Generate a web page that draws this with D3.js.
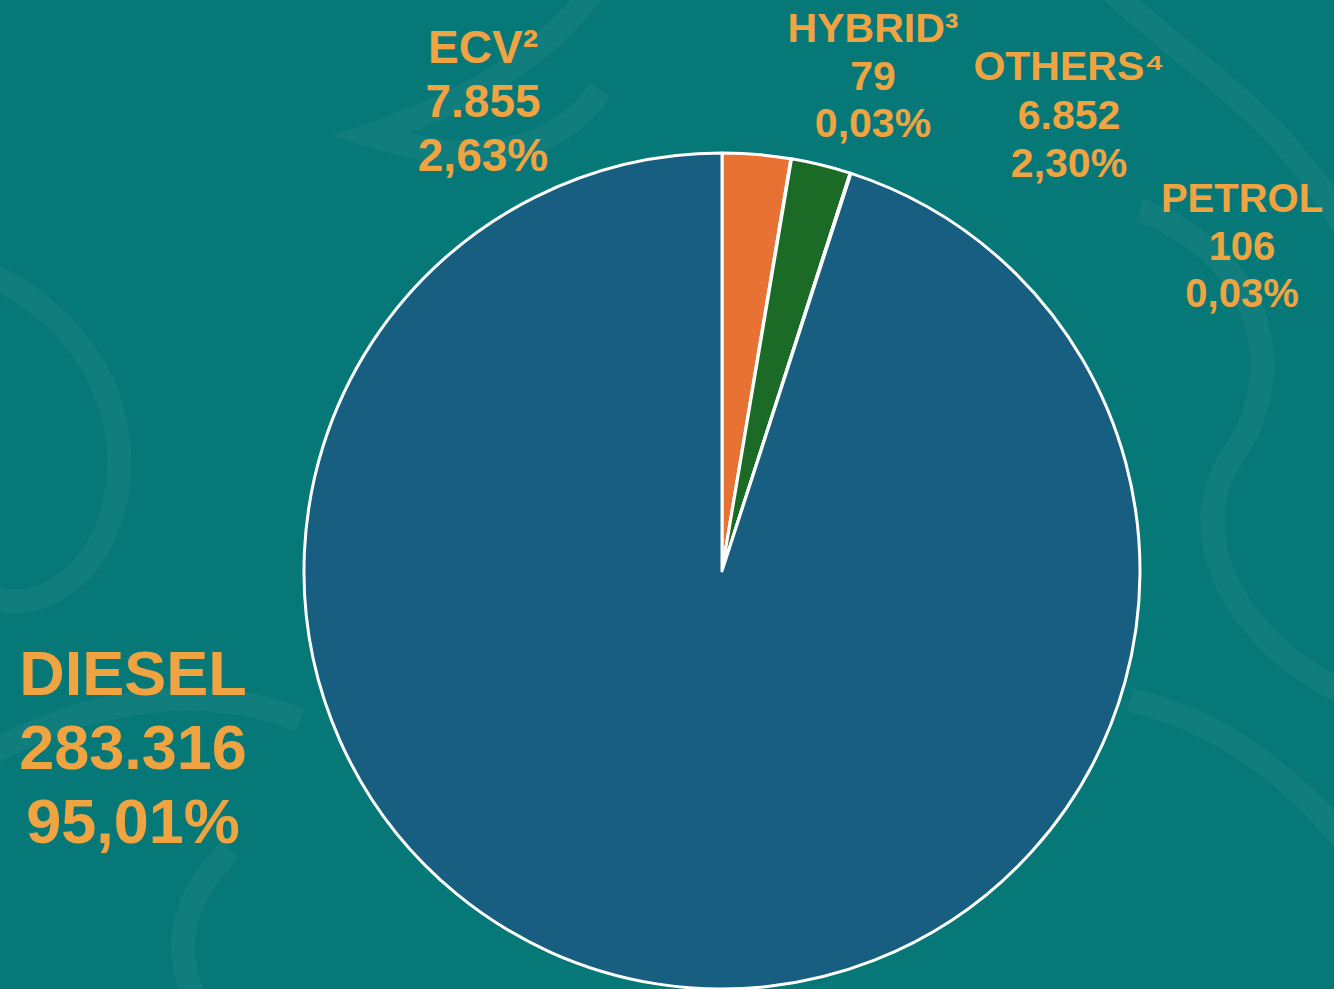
<!DOCTYPE html>
<html>
<head>
<meta charset="utf-8">
<script src="https://cdn.jsdelivr.net/npm/d3@7"></script>
<style>
  html, body { margin: 0; padding: 0; background: #077878; }
  svg { display: block; }
</style>
</head>
<body>
<div id="chart"></div>
<script>
// data
const categories = ["ECV²", "HYBRID³", "OTHERS⁴", "PETROL", "DIESEL"];
const values = [7855, 79, 6852, 106, 283316];
const valueLabels = ["7.855", "79", "6.852", "106", "283.316"];
const percentLabels = ["2,63%", "0,03%", "2,30%", "0,03%", "95,01%"];

const width = 1334;
const height = 989;
const cx = 722, cy = 571, radius = 418;

const colors = d3.scaleOrdinal()
  .domain(categories)
  .range(["#E87234", "#1E6B28", "#1B6B26", "#175E80", "#175E80"]);

// label placement (center x, first baseline, font size, line step)
const labelPos = {
  "ECV²":    {x: 483,  y: 63,  size: 46, step: 54},
  "HYBRID³": {x: 873,  y: 42,  size: 41, step: 47.5},
  "OTHERS⁴": {x: 1069, y: 80,  size: 41, step: 48.5},
  "PETROL":  {x: 1242, y: 212, size: 40, step: 47.5},
  "DIESEL":  {x: 133,  y: 695, size: 63, step: 74}
};

const svg = d3.select("#chart")
  .append("svg")
  .attr("width", width)
  .attr("height", height);

svg.append("rect")
  .attr("width", width)
  .attr("height", height)
  .attr("fill", "#077878");

// faint background swirls
const deco = svg.append("g")
  .attr("fill", "none")
  .attr("stroke", "#ffffff")
  .attr("stroke-opacity", 0.045)
  .attr("stroke-width", 24);
deco.append("path").attr("d", "M -20 270 C 120 330, 150 470, 90 560 C 40 620, -10 600, -20 590");
deco.append("path").attr("d", "M 600 -20 C 560 40, 500 90, 370 135 C 480 170, 560 150, 600 90");
deco.append("path").attr("d", "M 1100 -20 C 1180 60, 1300 120, 1360 260");
deco.append("path").attr("d", "M 1140 210 C 1250 250, 1300 360, 1230 460 C 1180 540, 1240 650, 1360 700");
deco.append("path").attr("d", "M 1130 700 C 1220 720, 1300 780, 1360 860");
deco.append("path").attr("d", "M -20 760 C 80 700, 200 680, 300 720");
deco.append("path").attr("d", "M 230 850 C 180 900, 170 950, 200 1010");

const pie = d3.pie().sort(null).value(d => d.value);
const arc = d3.arc().innerRadius(0).outerRadius(radius);

const data = categories.map((c, i) => ({
  name: c, value: values[i], count: valueLabels[i], pct: percentLabels[i]
}));

const g = svg.append("g")
  .attr("transform", `translate(${cx}, ${cy})`);

g.selectAll("path.slice")
  .data(pie(data))
  .join("path")
  .attr("class", "slice")
  .attr("d", arc)
  .attr("fill", d => colors(d.data.name))
  .attr("stroke", "#ffffff")
  .attr("stroke-width", 3)
  .attr("stroke-linejoin", "round");

// labels
const labels = svg.selectAll("text.lbl")
  .data(data)
  .join("text")
  .attr("class", "lbl")
  .attr("text-anchor", "middle")
  .attr("fill", "#F0A441")
  .attr("font-family", "'Liberation Sans', Arial, sans-serif")
  .attr("font-weight", "bold")
  .attr("font-size", d => labelPos[d.name].size + "px");

labels.each(function(d) {
  const p = labelPos[d.name];
  const t = d3.select(this);
  [d.name, d.count, d.pct].forEach((line, i) => {
    t.append("tspan")
      .attr("x", p.x)
      .attr("y", p.y + i * p.step)
      .text(line);
  });
});
</script>
</body>
</html>
